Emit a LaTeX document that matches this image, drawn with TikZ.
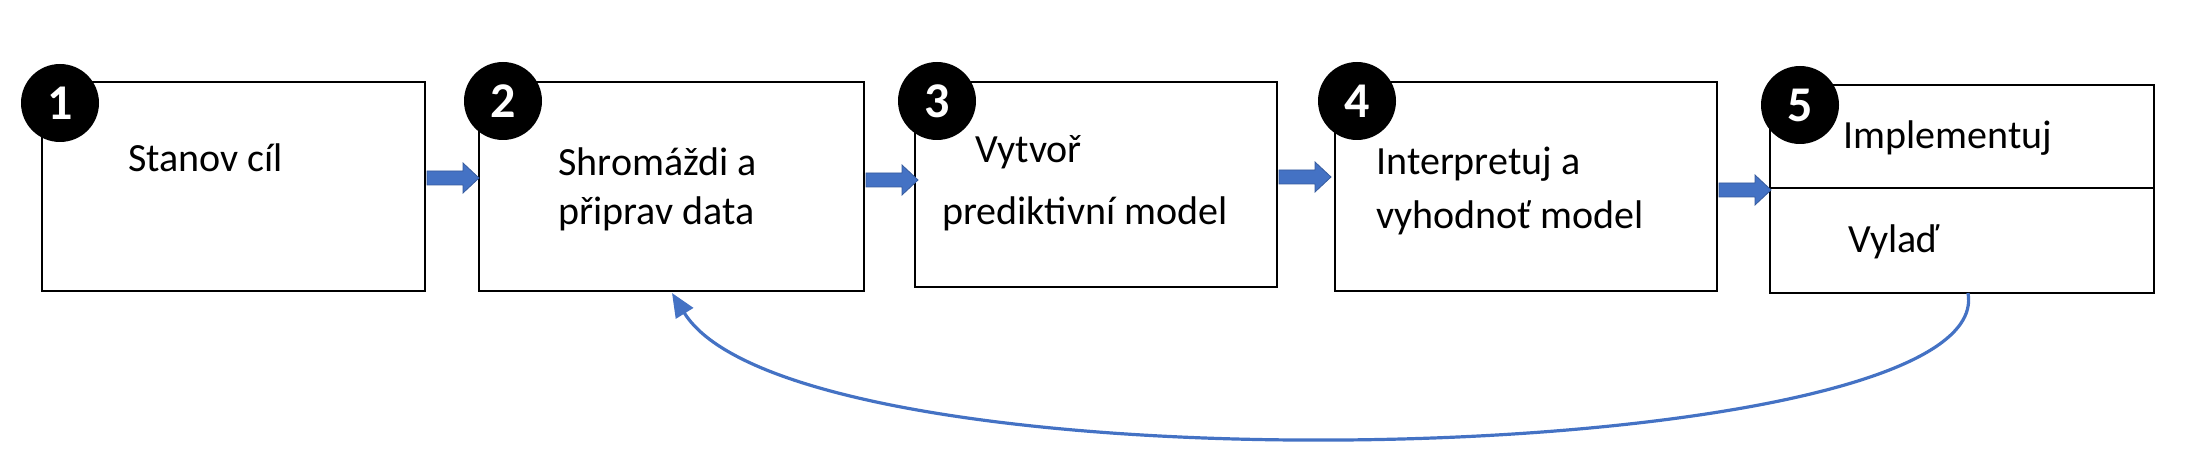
\documentclass[tikz,border=0pt]{standalone}
\usepackage{fontspec}
\setmainfont{Carlito}
\usetikzlibrary{shapes.arrows,arrows.meta}
\definecolor{bl}{HTML}{4472C4}
\begin{document}
\begin{tikzpicture}[x=0.5pt,y=-0.5pt,
 box/.style={draw,line width=0.8pt},
 num/.style={circle,fill=black,text=white,minimum size=39pt,inner sep=0pt,font=\bfseries\fontsize{25}{27}\selectfont},
 lbl/.style={anchor=west,font=\fontsize{20}{24}\selectfont,inner sep=0pt},
 barr/.style={fill=bl,draw=bl!80!black,line width=0.4pt}]
\useasboundingbox (0,0) rectangle (2186,464);
\draw[box] (42,82) rectangle (425,291);
\draw[box] (479,82) rectangle (864,291);
\draw[box] (915,82) rectangle (1277,287);
\draw[box] (1335,82) rectangle (1717,291);
\draw[box] (1770,85) rectangle (2154,293);
\draw[box] (1770,188) -- (2154,188);
\node[num] (n1) at (60,103) {1};
\node[num] (n2) at (503,101) {2};
\node[num] (n3) at (937,101) {3};
\node[num] (n4) at (1357,101) {4};
\node[num] (n5) at (1800,105) {5};
\node[lbl] (t1) at (128,158) {Stanov cíl};
\node[lbl] (t2a) at (558,162) {Shromáždi a};
\node[lbl] (t2b) at (558,214) {připrav data};
\node[lbl] (t3a) at (975,152) {Vytvoř};
\node[lbl] (t3b) at (942,214) {prediktivní model};
\node[lbl] (t4a) at (1376,164) {Interpretuj a};
\node[lbl] (t4b) at (1376,218) {vyhodnoť model};
\node[lbl] (t5a) at (1843,138) {Implementuj};
\node[lbl] (t5b) at (1848,242) {Vylaď};
\foreach \a/\y in {427/178,866/180,1279/177,1719/190}{
 \draw[barr] (\a,\y-7) -- (\a+36,\y-7) -- (\a+36,\y-15) -- (\a+52,\y) -- (\a+36,\y+15) -- (\a+36,\y+7) -- (\a,\y+7) -- cycle;}
\coordinate (c1) at (1968,293);
\coordinate (c2) at (672,293);
\draw[bl,line width=1.6pt,-{Triangle[length=12pt,width=10pt]}] (c1) .. controls (2000,470) and (800,500) .. (c2);
\end{tikzpicture}
\end{document}
